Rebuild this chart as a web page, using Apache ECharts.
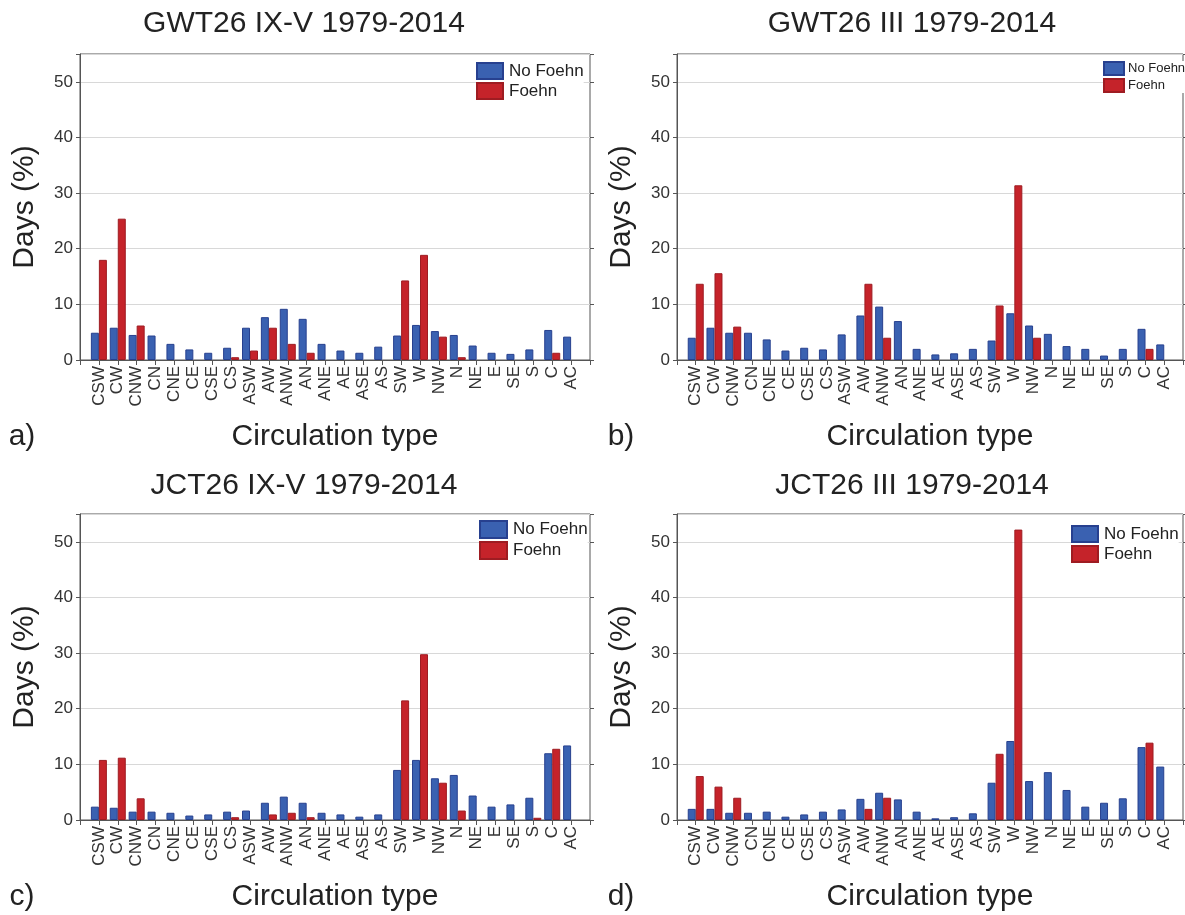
<!DOCTYPE html>
<html>
<head>
<meta charset="utf-8">
<script src="https://cdn.jsdelivr.net/npm/echarts@6/dist/echarts.min.js"></script>
<style>
  html, body { margin: 0; padding: 0; background: #fff; }
  #main { width: 1185px; height: 915px; }
</style>
</head>
<body>
<div id="main"></div>
<script>
// circulation types (same for all four panels)
const types = ["CSW", "CW", "CNW", "CN", "CNE", "CE", "CSE", "CS", "ASW", "AW", "ANW", "AN", "ANE",
	"AE", "ASE", "AS", "SW", "W", "NW", "N", "NE", "E", "SE", "S", "C", "AC"];

// a) GWT26 IX-V
const gwtIxvNo = [4.9, 5.8, 4.5, 4.4, 2.9, 1.9, 1.3, 2.2, 5.8, 7.7, 9.2, 7.4, 2.9,
	1.7, 1.3, 2.4, 4.4, 6.3, 5.2, 4.5, 2.6, 1.3, 1.1, 1.9, 5.4, 4.2];
const gwtIxvFoehn = [18.0, 25.4, 6.2, 0, 0, 0, 0, 0.5, 1.7, 5.8, 2.9, 1.3, 0,
	0, 0, 0, 14.3, 18.9, 4.2, 0.5, 0, 0, 0, 0, 1.3, 0];

// b) GWT26 III
const gwtIIINo = [4.0, 5.8, 4.9, 4.9, 3.7, 1.7, 2.2, 1.9, 4.6, 8.0, 9.6, 7.0, 2.0,
	1.0, 1.2, 2.0, 3.5, 8.4, 6.2, 4.7, 2.5, 2.0, 0.8, 2.0, 5.6, 2.8];
const gwtIIIFoehn = [13.7, 15.6, 6.0, 0, 0, 0, 0, 0, 0, 13.7, 4.0, 0, 0,
	0, 0, 0, 9.8, 31.4, 4.0, 0, 0, 0, 0, 0, 2.0, 0];

// c) JCT26 IX-V
const jctIxvNo = [2.4, 2.2, 1.5, 1.5, 1.3, 0.8, 1.0, 1.5, 1.7, 3.1, 4.2, 3.1, 1.3,
	1.0, 0.6, 1.0, 9.0, 10.8, 7.5, 8.1, 4.4, 2.4, 2.8, 4.0, 12.0, 13.4];
const jctIxvFoehn = [10.8, 11.2, 3.9, 0, 0, 0, 0, 0.5, 0, 1.0, 1.3, 0.5, 0,
	0, 0, 0, 21.5, 29.8, 6.7, 1.7, 0, 0, 0, 0.4, 12.8, 0];

// d) JCT26 III
const jctIIINo = [2.0, 2.0, 1.3, 1.3, 1.5, 0.6, 1.0, 1.5, 1.9, 3.8, 4.9, 3.7, 1.5,
	0.3, 0.5, 1.2, 6.7, 14.2, 7.0, 8.6, 5.4, 2.4, 3.1, 3.9, 13.1, 9.6];
const jctIIIFoehn = [7.9, 6.0, 4.0, 0, 0, 0, 0, 0, 0, 2.0, 4.0, 0, 0,
	0, 0, 0, 11.9, 52.2, 0, 0, 0, 0, 0, 0, 13.9, 0];

const yTicks = [0, 10, 20, 30, 40, 50];

// 面板布局
const panels = [
	{ title: "GWT26 IX-V 1979-2014", tag: "a)", no: gwtIxvNo, foehn: gwtIxvFoehn,
		grid: { left: 80, top: 54, width: 510, height: 306 }, tx: 304, ty: 24, lx: 22, ly: 437,
		legend: { left: 476, top: 62, w: 26, h: 16, fs: 17, gap: 6 } },
	{ title: "GWT26 III 1979-2014", tag: "b)", no: gwtIIINo, foehn: gwtIIIFoehn,
		grid: { left: 677, top: 54, width: 506, height: 306 }, tx: 912, ty: 24, lx: 621, ly: 437,
		legend: { left: 1103, top: 61, w: 20, h: 13, fs: 13, gap: 4 } },
	{ title: "JCT26 IX-V 1979-2014", tag: "c)", no: jctIxvNo, foehn: jctIxvFoehn,
		grid: { left: 80, top: 514, width: 510, height: 306 }, tx: 304, ty: 486, lx: 22, ly: 897,
		legend: { left: 479, top: 520, w: 27, h: 17, fs: 17, gap: 6 } },
	{ title: "JCT26 III 1979-2014", tag: "d)", no: jctIIINo, foehn: jctIIIFoehn,
		grid: { left: 677, top: 514, width: 506, height: 306 }, tx: 912, ty: 486, lx: 621, ly: 897,
		legend: { left: 1071, top: 525, w: 26, h: 16, fs: 17, gap: 6 } },
];

const font = "'Liberation Sans', Arial, sans-serif";
// half a category of empty space on each side of the plot
const cats = ["", ...types, ""];
const pad = (arr) => ["-", ...arr.map((v) => (v > 0 ? v : "-")), "-"];

let chart = echarts.init(document.getElementById("main"));

let option = {
	animation: false,
	textStyle: { fontFamily: font },
	grid: [],
	xAxis: [],
	yAxis: [],
	legend: [],
	series: [],
	graphic: [],
};

panels.forEach((p, i) => {
	option.grid.push({ ...p.grid, show: true, borderColor: "#555", borderWidth: 1, backgroundColor: "#fff" });

	// bottom axis with labels
	option.xAxis.push({
		type: "category",
		gridIndex: i,
		data: cats,
		boundaryGap: false,
		name: "Circulation type",
		nameLocation: "middle",
		nameGap: 62,
		nameTextStyle: { fontSize: 30, color: "#222", fontFamily: font },
		axisLine: { lineStyle: { color: "#555" } },
		axisTick: { length: 5, lineStyle: { color: "#555" } },
		axisLabel: { rotate: 90, fontSize: 17, color: "#333", margin: 6, interval: 0, fontFamily: font },
		splitLine: { show: false },
	});
	// top axis, only inner ticks
	option.xAxis.push({
		type: "category",
		gridIndex: i,
		position: "top",
		data: cats,
		boundaryGap: false,
		axisLine: { show: false },
		axisTick: { inside: true, length: 5, lineStyle: { color: "#555" } },
		axisLabel: { show: false },
	});

	option.yAxis.push({
		type: "value",
		gridIndex: i,
		min: 0,
		max: 55,
		interval: 10,
		name: "Days (%)",
		nameLocation: "middle",
		nameGap: 40,
		nameTextStyle: { fontSize: 30, color: "#222", fontFamily: font },
		axisLine: { show: true, lineStyle: { color: "#555" } },
		axisTick: { show: true, length: 4, lineStyle: { color: "#555" } },
		axisLabel: {
			fontSize: 17,
			color: "#333",
			margin: 7,
			fontFamily: font,
			formatter: (v) => (yTicks.includes(v) ? v : ""),
		},
		splitLine: { lineStyle: { color: "#d8d8d8" } },
	});
	option.yAxis.push({
		type: "value",
		gridIndex: i,
		position: "right",
		min: 0,
		max: 55,
		interval: 10,
		axisLine: { show: false },
		axisTick: { show: true, length: 4, lineStyle: { color: "#555" } },
		axisLabel: { show: false },
		splitLine: { show: false },
	});

	option.series.push({
		name: "No Foehn",
		type: "bar",
		xAxisIndex: i * 2,
		yAxisIndex: i * 2,
		data: pad(p.no),
		barWidth: 8,
		barGap: "0%",
		itemStyle: { color: "#3a61b1", borderColor: "#27408f", borderWidth: 1 },
	});
	option.series.push({
		name: "Foehn",
		type: "bar",
		xAxisIndex: i * 2,
		yAxisIndex: i * 2,
		data: pad(p.foehn),
		barWidth: 8,
		barGap: "0%",
		itemStyle: { color: "#c5232a", borderColor: "#9e1c22", borderWidth: 1 },
	});

	option.legend.push({
		left: p.legend.left,
		top: p.legend.top,
		orient: "vertical",
		itemWidth: p.legend.w,
		itemHeight: p.legend.h,
		itemGap: 2,
		padding: 0,
		backgroundColor: "#fff",
		selectedMode: false,
		icon: "rect",
		textStyle: { fontSize: p.legend.fs, color: "#222", fontFamily: font, padding: [0, 0, 0, p.legend.gap - 5] },
		data: ["No Foehn", "Foehn"],
	});

	option.graphic.push({
		type: "text",
		x: p.tx,
		y: p.ty,
		style: { text: p.title, font: "30px " + font, fill: "#222", textAlign: "center", textVerticalAlign: "middle" },
	});
	option.graphic.push({
		type: "text",
		x: p.lx,
		y: p.ly,
		style: { text: p.tag, font: "30px " + font, fill: "#222", textAlign: "center", textVerticalAlign: "middle" },
	});
});

chart.setOption(option);
</script>
</body>
</html>
